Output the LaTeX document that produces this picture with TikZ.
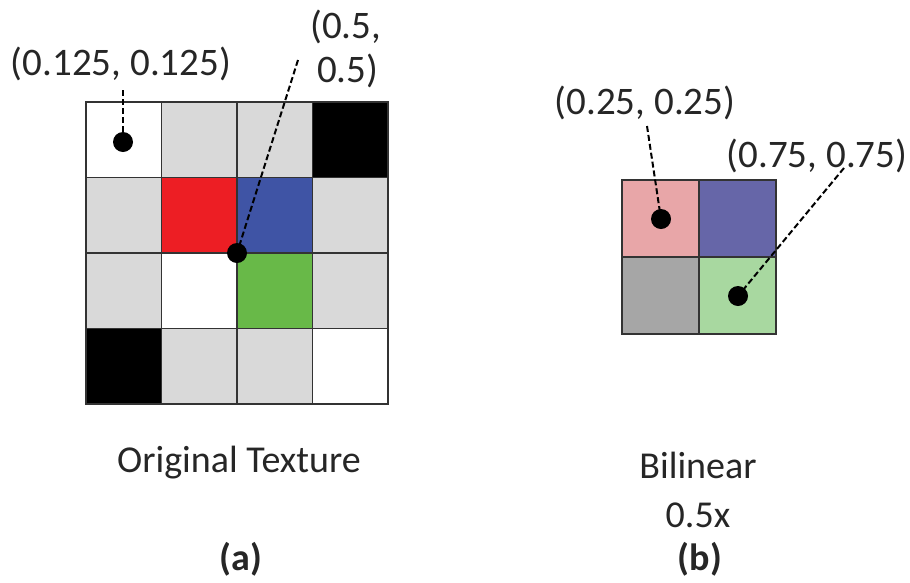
\documentclass[tikz,border=0pt]{standalone}
\usepackage{fontspec}
\setmainfont{Carlito}
\begin{document}
\begin{tikzpicture}[x=1pt,y=-1pt,
  cell/.style={draw=black!80, line width=1.3pt},
  dot/.style={circle, fill=black, inner sep=0pt, minimum size=20pt},
  lead/.style={line width=2pt, dash pattern=on 6pt off 3pt},
  lbl/.style={font=\fontsize{39}{44}\selectfont, inner sep=0pt, text=black!85, anchor=base},
  captxt/.style={font=\fontsize{38}{44}\selectfont, inner sep=0pt, text=black!85, anchor=base}]
\definecolor{lgray}{RGB}{217,217,217}
\definecolor{cred}{RGB}{237,30,36}
\definecolor{cblue}{RGB}{63,84,165}
\definecolor{cgreen}{RGB}{104,185,72}
\definecolor{cpink}{RGB}{232,166,168}
\definecolor{cpurple}{RGB}{102,102,168}
\definecolor{cgray}{RGB}{166,166,166}
\definecolor{clgreen}{RGB}{168,216,160}
\useasboundingbox (0,0) rectangle (910,582);
% ---- original texture 4x4 ----
\def\cs{75.5}
\foreach \r/\c/\col in {0/0/white,0/1/lgray,0/2/lgray,0/3/black,
                        1/0/lgray,1/1/cred,1/2/cblue,1/3/lgray,
                        2/0/lgray,2/1/white,2/2/cgreen,2/3/lgray,
                        3/0/black,3/1/lgray,3/2/lgray,3/3/white}{
  \path[cell, fill=\col] (86+\c*\cs,102+\r*\cs) rectangle ++(\cs,\cs);
}
% ---- bilinear 2x2 ----
\def\cb{77}
\foreach \r/\c/\col in {0/0/cpink,0/1/cpurple,1/0/cgray,1/1/clgreen}{
  \path[cell, fill=\col] (622+\c*\cb,180+\r*\cb) rectangle ++(\cb,\cb);
}
% ---- dots ----
\node[dot] (d1) at (123,142) {};
\node[dot] (d2) at (237,253) {};
\node[dot] (d3) at (661,219) {};
\node[dot] (d4) at (738,296) {};
% ---- labels ----
\node[lbl] (l1) at (121,75) {(0.125, 0.125)};
\node[lbl, align=left, anchor=base west] (l2) at (310,82) {(0.5,\\[0pt]\hspace*{7pt}0.5)};
\node[lbl] (l3) at (645,114) {(0.25, 0.25)};
\node[lbl] (l4) at (817,167) {(0.75, 0.75)};
% ---- leader lines ----
\coordinate (e1) at (123,90);
\coordinate (e2) at (298,60);
\coordinate (e3) at (647,126);
\coordinate (e4) at (844,168);
\draw[lead] (e1) -- (d1.center);
\draw[lead] (e2) -- (d2.center);
\draw[lead] (e3) -- (d3.center);
\draw[lead] (e4) -- (d4.center);
% ---- captions ----
\node[captxt] (t1) at (239,472) {Original Texture};
\node[captxt, font=\fontsize{38}{44}\selectfont\bfseries] (ta) at (241,570) {(a)};
\node[captxt] (t2) at (698,478) {Bilinear};
\node[captxt] (t3) at (698,527) {0.5x};
\node[captxt, font=\fontsize{38}{44}\selectfont\bfseries] (tb) at (700,570) {(b)};
\end{tikzpicture}
\end{document}
